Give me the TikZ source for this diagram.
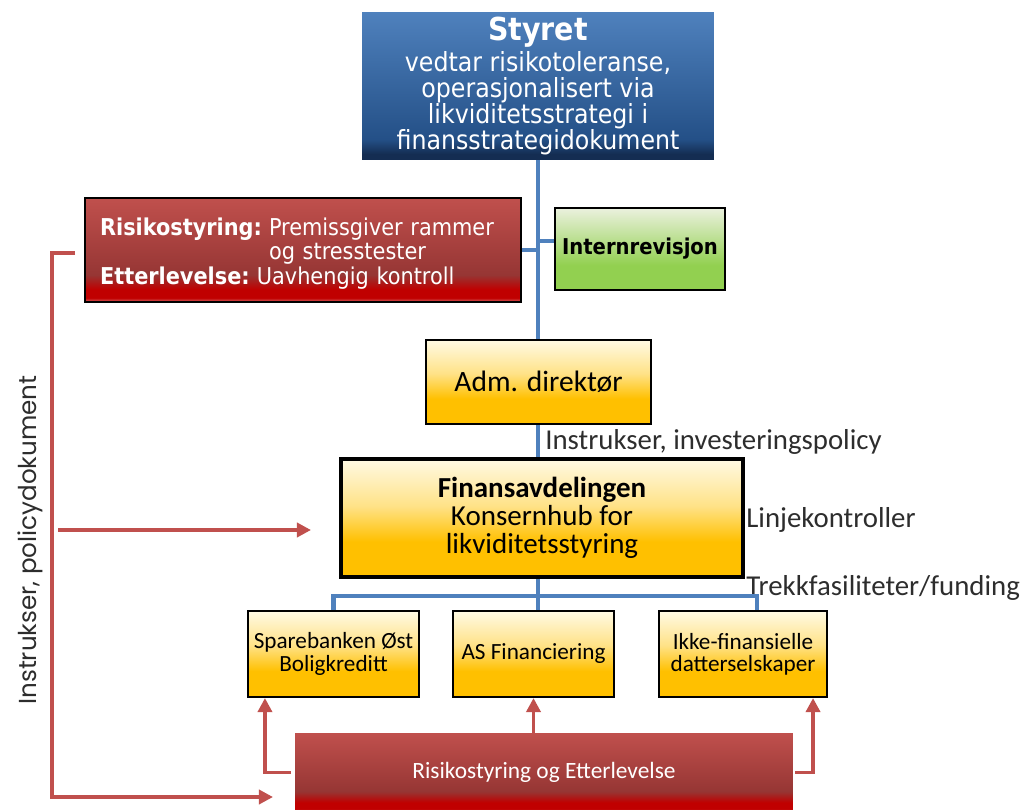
\documentclass[tikz,border=0pt]{standalone}
\usepackage{fontspec}
\setmainfont{Carlito}
\newfontfamily\tah{DejaVu Sans Condensed}
\newfontfamily\pop{Poppins}
\usetikzlibrary{arrows.meta}
\definecolor{bT}{RGB}{79,129,189}
\definecolor{bM}{RGB}{36,80,135}
\definecolor{bB}{RGB}{20,45,82}
\definecolor{rT}{RGB}{192,80,77}
\definecolor{rD}{RGB}{150,54,52}
\definecolor{rB}{RGB}{192,0,0}
\definecolor{rL}{RGB}{214,100,100}
\definecolor{yT}{RGB}{255,250,228}
\definecolor{yM}{RGB}{255,226,135}
\definecolor{yB}{RGB}{255,192,0}
\definecolor{gT}{RGB}{235,241,222}
\definecolor{gB}{RGB}{146,208,80}
\definecolor{lineblue}{RGB}{79,129,189}
\definecolor{linered}{RGB}{192,80,77}
\definecolor{txt}{RGB}{45,45,45}
\pgfdeclareverticalshading{blueshade}{100bp}{color(0bp)=(bB); color(25bp)=(bB); color(27bp)=(bB); color(32bp)=(bM); color(75bp)=(bT); color(100bp)=(bT)}
\pgfdeclareverticalshading{redshade}{100bp}{color(0bp)=(rL); color(25bp)=(rL); color(27bp)=(rB); color(31bp)=(rB); color(38bp)=(rD); color(75bp)=(rT); color(100bp)=(rT)}
\pgfdeclareverticalshading{yellowshade}{100bp}{color(0bp)=(yB); color(25bp)=(yB); color(40bp)=(yB); color(55bp)=(yM); color(75bp)=(yT); color(100bp)=(yT)}
\pgfdeclareverticalshading{greenshade}{100bp}{color(0bp)=(gB); color(25bp)=(gB); color(40bp)=(gB); color(75bp)=(gT); color(100bp)=(gT)}
\begin{document}
\begin{tikzpicture}[x=0.02cm,y=-0.02cm,
  bluebox/.style={shading=blueshade, draw=none, text=white, align=center, inner sep=0pt},
  redbox/.style={shading=redshade, draw=black, line width=1.2pt, text=white, inner sep=0pt},
  redplain/.style={shading=redshade, draw=none, text=white, inner sep=0pt},
  greenbox/.style={shading=greenshade, draw=black, line width=1.2pt, text=black, align=center, inner sep=0pt},
  ybox/.style={shading=yellowshade, draw=black, line width=1.2pt, text=black, align=center, inner sep=0pt},
  bl/.style={draw=lineblue, line width=2.6pt},
  rl/.style={draw=linered, line width=2pt},
  ra/.style={rl, -{Triangle[length=8pt,width=8pt]}},
  lbl/.style={text=txt, font=\fontsize{16.4}{18}\selectfont, inner sep=0pt, anchor=west}
]
\useasboundingbox (0,0) rectangle (1030,810);

% boxes
\node[bluebox, minimum width=7.04cm, minimum height=2.96cm,
  font=\tah\fontsize{15}{14.8}\selectfont] (styret) at (538,86)
  {{\bfseries\fontsize{18}{18}\selectfont Styret}\\[1pt]
   vedtar risikotoleranse,\\ operasjonalisert via\\ likviditetsstrategi i\\ finansstrategidokument};

\node[redbox, minimum width=8.72cm, minimum height=2.08cm, text width=8.12cm,
  font=\tah\fontsize{13.2}{13.6}\selectfont] (risk) at (303,250)
  {\raisebox{-2.8pt}[\height][\depth]{\begin{tabular}{@{}l@{\hspace{4pt}}l@{}}
   \textbf{Risikostyring:} & Premissgiver rammer\\
   & og stresstester\\
   \multicolumn{2}{@{}l@{}}{\textbf{Etterlevelse:}\hspace{4pt}Uavhengig kontroll}
   \end{tabular}}};

\node[greenbox, minimum width=3.4cm, minimum height=1.64cm,
  font=\tah\bfseries\fontsize{12.4}{13}\selectfont] (intern) at (640,249) {Internrevisjon};

\node[ybox, minimum width=4.5cm, minimum height=1.68cm,
  font=\fontsize{16.8}{18}\selectfont] (adm) at (538.5,382) {Adm. direkt\o r};

\node[ybox, line width=2.2pt, minimum width=8.04cm, minimum height=2.36cm,
  font=\fontsize{16.5}{15.8}\selectfont] (fin) at (542,518)
  {\textbf{Finansavdelingen}\\Konsernhub for\\likviditetsstyring};

\node[ybox, minimum width=3.42cm, minimum height=1.72cm,
  font=\fontsize{13.2}{12.6}\selectfont] (spb) at (333.5,654) {Sparebanken \O st\\Boligkreditt};
\node[ybox, minimum width=3.22cm, minimum height=1.72cm,
  font=\fontsize{13.2}{12.6}\selectfont] (asf) at (533.5,654) {AS Financiering};
\node[ybox, minimum width=3.36cm, minimum height=1.72cm,
  font=\fontsize{13.2}{12.6}\selectfont] (ikke) at (743,654) {Ikke-finansielle\\datterselskaper};

\node[redplain, minimum width=9.96cm, minimum height=1.58cm,
  font=\fontsize{13.3}{15}\selectfont] (bot) at (544,772.5) {Risikostyring og Etterlevelse};

% labels
\node[lbl] (l1) at (545,442) {Instrukser, investeringspolicy};
\node[lbl] (l2) at (746,520) {Linjekontroller};
\node[lbl] (l3) at (746,588) {Trekkfasiliteter/funding};
\node[text=txt, font=\pop\fontsize{14}{15}\selectfont, rotate=90, inner sep=0pt] (vl) at (30,540)
  {Instrukser, policydokument};

% blue connectors
\draw[bl] (styret.south) -- (styret.south |- adm.north);
\draw[bl] (risk.east) -- (risk.east -| styret.south);
\draw[bl] ([yshift=4.5pt]intern.west) -- ([yshift=4.5pt]intern.west -| styret.south);
\draw[bl] (styret.south |- adm.south) -- (styret.south |- fin.north);
\coordinate (busL) at (334,596);
\coordinate (busR) at (757,596);
\draw[bl] (styret.south |- fin.south) -- (styret.south |- busL);
\draw[bl] (spb.north) -- (spb.north |- busL) -- (busR) -- (busR |- ikke.north);
\draw[bl] (styret.south |- busL) -- (styret.south |- asf.north);

% red connectors
\draw[ra] ([xshift=-2pt]bot.west) -| ([xshift=0.36cm]spb.south west);
\draw[ra] (asf.south |- bot.north) -- (asf.south);
\draw[ra] ([xshift=1pt]bot.east) -| ([xshift=-0.3cm]ikke.south east);
\coordinate (bk) at (75,253);
\coordinate (bkend) at (273,797);
\draw[ra] (bk) -- ++(-23,0) |- (bkend);
\coordinate (ms) at (58,530);
\coordinate (me) at (311,530);
\draw[ra] (ms) -- (me);
\end{tikzpicture}
\end{document}
